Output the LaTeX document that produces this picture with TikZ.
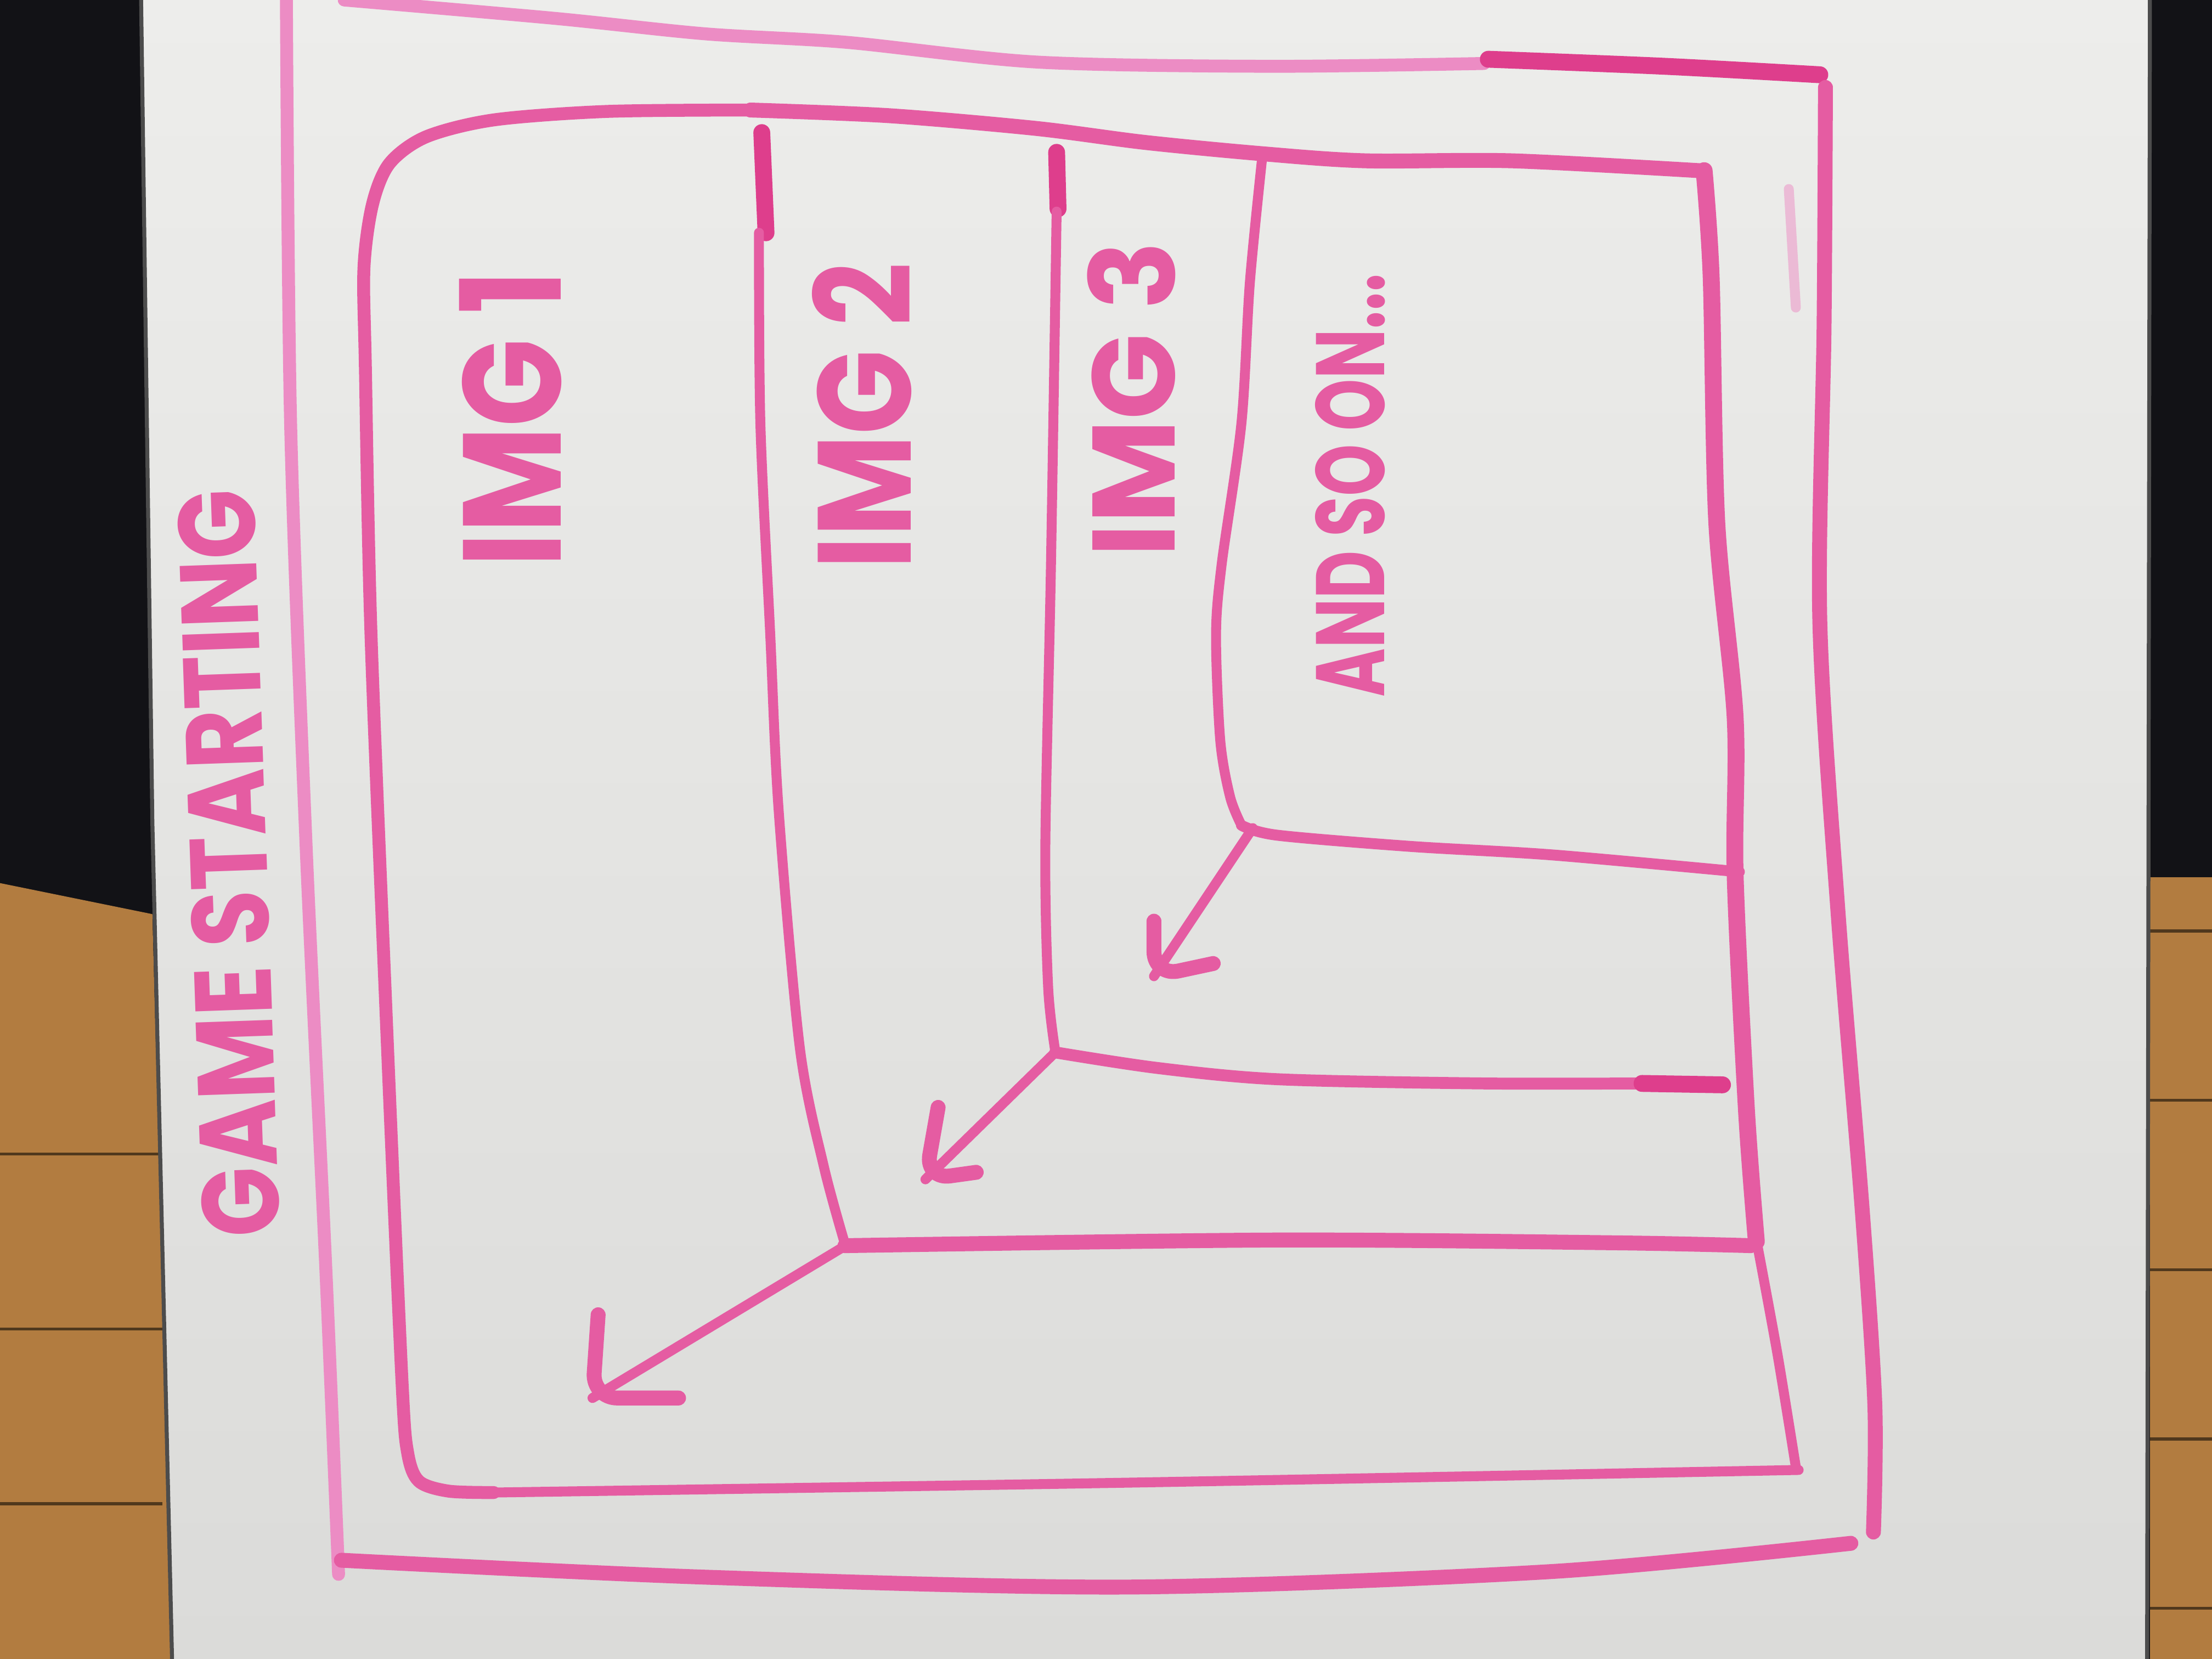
\documentclass[tikz,border=0pt]{standalone}
\usepackage{fontspec}
\setsansfont{Poppins}
\usepackage{graphicx}
\definecolor{marker}{RGB}{229,92,162}
\definecolor{markerdark}{RGB}{222,62,140}
\definecolor{markerlight}{RGB}{236,140,196}
\definecolor{boardtop}{RGB}{237,237,235}
\definecolor{boardbottom}{RGB}{219,219,217}
\definecolor{wood}{RGB}{178,124,64}
\definecolor{wall}{RGB}{18,18,22}
\tikzset{
	every picture/.style={/utils/exec={\sffamily\bfseries}},
	pen/.style={draw=marker, line width=2pt, line cap=round, line join=round},
	heavy/.style={pen, line width=3pt},
	blob/.style={pen, draw=markerdark, line width=3.4pt},
	faded/.style={pen, draw=markerlight, line width=2.6pt},
	head/.style={pen, line width=3pt, rounded corners=5pt},
	scrawl/.style={inner sep=0pt, text=marker, rotate=90},
	plank/.style={draw=black!55!wood, line width=0.6pt},
}

\begin{document}
\begin{tikzpicture}[x=0.01cm, y=-0.01cm]
	\useasboundingbox (0,0) rectangle (1568,1176);
	\fill[wall] (0,0) rectangle (1568,1176);
	\fill[wood] (0,626) -- (108,648) -- (122,1176) -- (0,1176) -- cycle;
	\fill[wood] (1524,622) rectangle (1568,1176);
	\foreach \y in {818,942,1066} \draw[plank] (0,\y) -- (115,\y);
	\foreach \y in {660,780,900,1020,1140} \draw[plank] (1524,\y) -- (1568,\y);
	\shade[top color=boardtop, bottom color=boardbottom, draw=black!70, line width=0.8pt]
		(100,-2) -- (1524,-2) -- (1522,1178) -- (122,1178) -- (108,583) -- cycle;

	% outer frame
	\draw[faded] plot[smooth] coordinates {(203,-5) (206,300) (217,600) (231,900) (240,1116)};
	\draw[faded] plot[smooth] coordinates {(244,0) (393,13) (500,24) (600,30) (735,44) (900,47) (1052,45)};
	\draw[blob] plot[smooth] coordinates {(1055,42) (1180,47) (1290,53)};
	\draw[heavy] plot[smooth] coordinates {(1294,62) (1293,232) (1290,440) (1303,648) (1320,857) (1329,996) (1328,1086)};
	\draw[heavy] plot[smooth] coordinates {(242,1106) (500,1118) (800,1125) (1100,1114) (1312,1094)};

	% first card
	\draw[heavy] plot[smooth] coordinates {(532,78) (630,82) (734,91) (812,101) (895,109) (968,114) (1072,114) (1205,121)};
	\draw[pen, line width=2.6pt] plot[smooth] coordinates {(532,78) (430,79) (350,85) (302,97) (276,116) (264,145) (258,190) (259,260)
		(263,450) (275,750) (285,980) (289,1030) (297,1050) (318,1057) (350,1058)};
	\draw[pen] plot[smooth] coordinates {(350,1058) (800,1051) (1275,1042)};
	\draw[pen] plot[smooth] coordinates {(1246,884) (1260,960) (1273,1040)};
	\draw[blob, draw=marker] plot[smooth] coordinates {(1208,121) (1213,197) (1217,371) (1230,509) (1230,621) (1238,787) (1245,880)};
	\draw[pen, draw=markerlight, opacity=0.5] (1268,134) -- (1273,218);

	% second card
	\draw[blob] (540,94) -- (543,165);
	\draw[pen] plot[smooth] coordinates {(538,165) (539,300) (546,450) (552,575) (567,743) (584,827) (599,882)};
	\draw[heavy] plot[smooth] coordinates {(599,883) (905,879) (1146,881) (1241,883)};

	% third card
	\draw[blob] (749,108) -- (750,148);
	\draw[pen] plot[smooth] coordinates {(749,150) (745,400) (741,600) (743,700) (748,745)};
	\draw[pen, line width=2.4pt] plot[smooth] coordinates {(748,746) (820,757) (905,765) (1050,768) (1164,768)};
	\draw[blob] (1164,768) -- (1221,769);

	% fourth card
	\draw[pen] plot[smooth] coordinates {(895,109) (886,200) (880,300) (866,400) (862,450) (865,525) (872,565) (880,585)};
	\draw[pen, line width=2.2pt] plot[smooth] coordinates {(880,585) (905,592) (1000,600) (1100,606) (1233,618)};

	\coordinate (c1) at (601,882);
	\coordinate (t1) at (420,991);
	\coordinate (c2) at (748,746);
	\coordinate (t2) at (656,836);
	\coordinate (c3) at (888,587);
	\coordinate (t3) at (818,692);

	\draw[pen] (c1) -- (t1);
	\draw[head] ([shift={(4,-59)}]t1) -- (t1) -- ([shift={(61,0)}]t1);
	\draw[pen] (c2) -- (t2);
	\draw[head] ([shift={(9,-51)}]t2) -- (t2) -- ([shift={(36,-5)}]t2);
	\draw[pen] (c3) -- (t3);
	\draw[head] ([shift={(0,-39)}]t3) -- (t3) -- ([shift={(42,-9)}]t3);

	\node[scrawl, rotate=2] (title) at (162,612) {\resizebox{5.3cm}{0.55cm}{GAME STARTING}};
	\node[scrawl] (img1) at (362,297) {\resizebox{2.1cm}{0.72cm}{IMG 1}};
	\node[scrawl] (img2) at (611,295) {\resizebox{2.17cm}{0.7cm}{IMG 2}};
	\node[scrawl] (img3) at (802,283) {\resizebox{2.24cm}{0.62cm}{IMG 3}};
	\node[scrawl] (more) at (957,344) {\resizebox{3cm}{0.49cm}{AND SO ON...}};
\end{tikzpicture}
\end{document}
